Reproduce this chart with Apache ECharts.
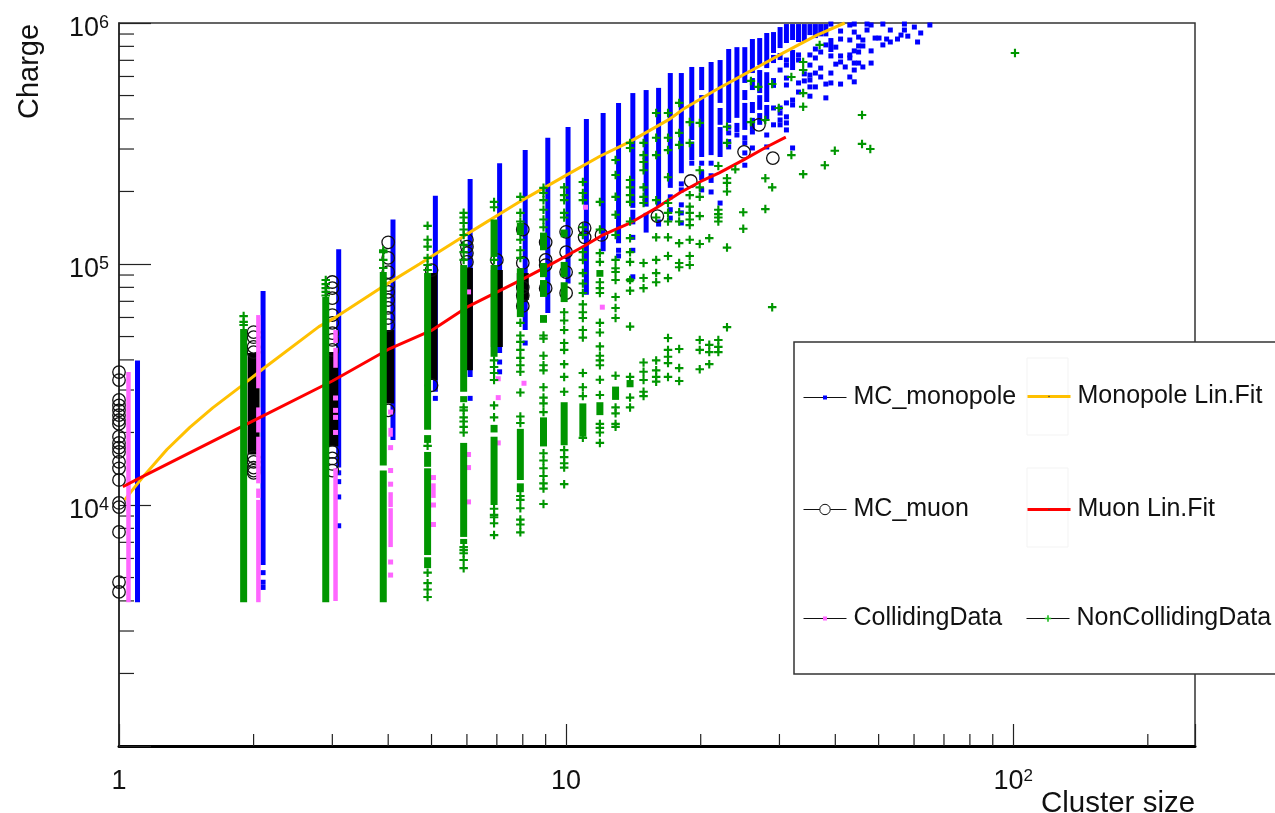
<!DOCTYPE html>
<html><head><meta charset="utf-8"><style>html,body{margin:0;padding:0;background:#fff}#c{width:1275px;height:813px}</style>
<script src="https://cdn.jsdelivr.net/npm/echarts@6/dist/echarts.min.js"></script></head><body><div id="c"></div>
<script>
// Cluster-size offsets that separate the samples horizontally
const monopoleShift = 0.1, collidingShift = 0.05, nonCollidingShift = -0.1, muonShift = 0;

// Dense columns read as [cluster size, lowest charge, highest charge]
const monopoleBands = [[1,3950,39800],[2,5640,77300],[3,14300,115000],[4,18600,153000],[5,29500,192000],[6,34000,225000],[7,42700,262000],[8,53200,297000],[9,62600,334000],[10,83000,370000],[11,74500,400000],[12,113000,423000],[13,122000,466000],[14,171000,512000],[14,146000,168000],[15,173000,527000],[15,135000,163000],[16,173000,538000],[16,143000,153000],[17,207000,620000],[18,238000,620000],[19,327000,657000],[19,270000,322000],[20,527000,657000],[20,278000,502000],[20,223000,245000],[21,283000,689000],[21,217000,238000],[22,466000,702000],[22,378000,444000],[22,278000,370000],[23,385000,780000],[24,404000,794000],[24,353000,385000],[25,564000,794000],[25,479000,527000],[25,360000,466000],[26,620000,858000],[26,527000,591000],[26,423000,470000],[26,360000,404000],[27,669000,866000],[27,512000,638000],[27,436000,502000],[27,378000,423000],[28,650000,909000],[28,470000,625000],[28,396000,457000],[29,751000,917000],[29,682000,737000],[29,538000,591000],[30,787000,962000],[30,702000,751000],[31,826000,990000],[32,850000,990000],[32,638000,773000],[33,834000,990000],[34,834000,990000],[35,891000,990000],[36,866000,990000],[37,880000,990000],[38,880000,990000],[39,758000,866000]];
const monopolePoints = [[2,[5240,4780,4550]],[3,[13600,12500,10800,8200]],[5,[27700]],[6,[27700]],[7,[39200,35700]],[8,[47000]],[13,[114000,108000]],[14,[129000,114000,88500]],[17,[190000,168000,155000]],[18,[215000,203000,176000,163000,148000]],[19,[262000]],[20,[262000,203000]],[21,[262000,199000]],[22,[179000]],[23,[370000,350000,322000,306000]],[24,[343000]],[25,[334000,318000,289000,257000]],[26,[353000,303000]],[28,[343000,306000]],[29,[444000,378000]],[30,[638000,444000,423000,396000,378000]],[31,[702000,669000,591000,553000,466000,408000,385000,360000]],[32,[479000,457000,303000]],[33,[737000,702000,564000,517000]],[34,[615000,575000]],[35,[737000,669000,608000,580000,543000,497000]],[36,[780000,716000,620000,543000]],[37,[758000,650000,597000]],[38,[811000,558000,489000]],[39,[990000,730000,620000,564000]],[40,[794000,675000]],[41,[926000,858000,730000,689000,558000]],[42,[657000]],[43,[981000,850000,737000,716000,597000]],[44,[990000,917000,766000,682000,638000,570000]],[45,[874000,803000,758000,682000]],[46,[850000,803000,657000]],[47,[990000,935000]],[48,[981000,766000,682000]],[49,[866000]],[50,[866000]],[51,[990000,811000]],[52,[858000]],[53,[935000,834000]],[55,[858000]],[56,[891000]],[57,[990000,935000]],[58,[882000]],[60,[962000]],[61,[834000]],[62,[909000]],[65,[981000]]];

const muonBands = [[2,16200,42700],[3,17500,43100],[4,26400,53200],[5,33000,91700],[6,36200,96200],[7,45300,94400],[8,70900,91700]];
const muonPoints = [[1,[35600,33000,27300,25900,24700,23600,22500,21700,19200,18100,17300,16600,15100,14200,12700,10200,9800,7730,4790,4360]],[2,[52200,49700,45300,43100,15800,15100,14300,13900,13600]],[3,[84200,79400,72200,61400,57000,51700,48400,44000,16600,15600,14800,13900]],[4,[123000,106000,92600,81800,76600,70900,65700,59700,55800,24700]],[5,[94400,31400]],[6,[126000,118000,111000,102000]],[7,[104000]],[8,[139000,101000,80000,74000,67000]],[9,[123000,104000,99000,79400]],[10,[136000,112000,92600,75800]],[11,[141000,129000]],[12,[132000]],[16,[158000]],[19,[221000]],[25,[292000]],[27,[378000]],[29,[275000]]];

const collidingBands = [[1,3950,35600],[2,30500,61400],[2,20000,25400],[2,12300,19200],[2,10700,11700],[2,3950,10500],[3,47000,53200],[3,37100,44900],[3,4000,14200],[4,19200,20900],[4,9800,11300],[4,6690,9700],[5,10700,12300]];
const collidingPoints = [[3,[27800,24700,23100,20000]],[4,[24300,17300,13900,12200,5800,5120]],[5,[13000,10000,8300]],[6,[76600,16200,14300,10300]],[7,[33400,27900,18100]],[8,[32000]],[11,[172000]],[12,[66200]]];

const nonCollidingBands = [[2,3950,53800],[3,3950,73000],[4,14600,92600],[4,3950,13900],[5,20500,91700],[5,18100,19500],[5,14400,16600],[5,6200,14200],[5,5470,6070],[6,29500,99000],[6,26700,28300],[6,7370,18100],[6,6890,7230],[7,107000,153000],[7,41200,99000],[7,20000,21500],[7,10000,19200],[8,132000,148000],[8,60200,96000],[8,12700,20700],[8,11300,12300],[9,114000,135000],[9,88200,101000],[9,73000,85800],[9,57000,61400],[9,17500,23100],[10,129000,139000],[10,88200,102000],[10,69500,84000],[10,17700,26700],[11,19200,26400],[12,88500,94400],[12,23600,26700],[13,27300,31000],[14,84000,87400],[14,30800,33000]];
const nonCollidingPoints = [[2,[60800,57500,55800]],[3,[85800,82500,79400,76600,74000]],[4,[114000,112000,104000,96200]],[5,[144000,126000,118000,106000,99000,94400,17600,5240,4740,4460,4150]],[6,[163000,156000,148000,139000,132000,120000,112000,104000,25400,24700,23100,22200,21100,20000,6690,6500,6310,5910,5470]],[7,[181000,172000,104000,39800,37400,35300,33000,25900,23100,9650,9100,8900,8400,7500]],[8,[190000,163000,150000,126000,114000,106000,57000,50500,47500,44000,40800,38000,35700,29300,23300,21900,10900,10500,9700,8700,8300,7700]],[9,[207000,197000,184000,168000,153000,142000,50500,49000,41600,38000,36200,30800,27900,26400,24300,16400,15300,14200,13200,12300,11700,10100]],[10,[208000,193000,184000,163000,156000,63100,58300,53200,47000,44000,38400,34000,29500,16900,15800,14900,14300,12200]],[11,[219000,197000,184000,142000,132000,112000,104000,91700,83000,75800,68000,63100,59700,53200,49500,35300,30800,28300,19000]],[12,[181000,139000,111000,102000,84000,79400,75800,57000,52000,45500,41600,39800,38000,33100,28600,21700,20900,20000,18100]],[13,[270000,234000,190000,160000,132000,104000,96000,92600,85800,73000,65700,59700,34400,25400,24000,21700,21100]],[14,[318000,303000,223000,208000,193000,181000,150000,128000,112000,102000,85800,77500,55000,34000,27900,25400]],[15,[318000,283000,265000,245000,208000,190000,179000,101000,87500,79400,39000,35700,33000,29500,28300]],[16,[423000,334000,283000,184000,156000,129000,104000,91700,84000,39800,36200,34000,32500]],[17,[423000,334000,297000,229000,179000,163000,150000,129000,108000,87400,49300,44000,41200,38800,34000]],[18,[466000,350000,312000,164000,150000,122000,101000,97000,44400,37000,32700]],[19,[388000,318000,193000,173000,163000,153000,145000,126000,108000,99000]],[20,[385000,245000,208000,190000,158000,121000,48400,44000,36600]],[21,[128000,46200,43100,38400]],[22,[255000,168000,161000,156000,150000,48400,45300,43100]],[23,[371000,318000,227000,217000,200000,117000,54700]],[24,[247000]],[25,[164000,140000]],[26,[575000,388000]],[27,[543000]],[28,[396000,227000,169000]],[29,[558000,208000,66200]],[30,[444000]],[32,[597000,283000]],[34,[689000,638000,512000,449000,236000]],[37,[811000]],[38,[257000]],[40,[295000]],[46,[415000,315000]],[48,[300000]],[101,[751000]]];

// Fitted curves [cluster size, charge]
const monopoleFit = [[1.03,10500],[1.07,11500],[1.14,13300],[1.28,17000],[1.44,21000],[1.62,25300],[1.87,31000],[2.09,36500],[2.8,55000],[3.07,60500],[3.84,79400],[4.7,100000],[6,133000],[7.9,182000],[9.9,231000],[11.9,280000],[13.9,322000],[17,398000],[18.3,440000],[21.7,530000],[25.8,631000],[30.6,752000],[36.4,891000],[42,1000000]];
const muonFit = [[1.02,11900],[1.1,12800],[2,22400],[3,32700],[4,44200],[5,53000],[6,66200],[7,76400],[8,86600],[9,97000],[10,108000],[11,119000],[12,131000],[14,149000],[16,172000],[18,198000],[20,220000],[22,239000],[25,271000],[28,305000],[31,336000]];

// Axis labels and minor tick values
const xMinorTicks = [2,3,4,5,6,7,8,9,20,30,40,50,60,70,80,90,200];
const yMinorTicks = [2e3,3e3,4e3,5e3,6e3,7e3,8e3,9e3,2e4,3e4,4e4,5e4,6e4,7e4,8e4,9e4,2e5,3e5,4e5,5e5,6e5,7e5,8e5,9e5];
const xLabels = {1:'{a|1}',10:'{a|10}',100:'{a|10}{s|2}'};
const yLabels = {10000:'{a|10}{s|4}',100000:'{a|10}{s|5}',1000000:'{a|10}{s|6}'};

const FONT = '"Liberation Sans", Arial, Helvetica, sans-serif';
const BLUE='#0000ff', PINK='#ff66ff', GREEN='#009600', YELLOW='#ffc000', RED='#ff0000';
const PLUS='path://M3 0h2v3h3v2H5v3H3V5H0V3h3z';

const flat=(t,sh)=>t.flatMap(([s,v])=>v.map(c=>[+(s+sh).toFixed(3),c]));
const shiftBands=(b,sh)=>b.map(([s,lo,hi])=>[+(s+sh).toFixed(3),lo,hi]);

function bandSeries(name,data,color,w,z){
  return {type:'custom',name,data,z,silent:true,animation:false,encode:{x:0,y:[1,2]},
    renderItem(p,api){
      const a=api.coord([api.value(0),api.value(1)]),b=api.coord([api.value(0),api.value(2)]);
      return {type:'rect',shape:{x:a[0]-w/2,y:b[1],width:w,height:a[1]-b[1]},style:{fill:color}};
    }};
}
function markSeries(name,data,symbol,size,itemStyle,z){
  return {type:'line',name,data,z,symbol,symbolSize:size,showSymbol:true,showAllSymbol:true,clip:false,silent:true,animation:false,
    lineStyle:{width:0,opacity:0},itemStyle};
}
function fitSeries(name,data,color,z){
  return {type:'line',name,data,z,symbol:'none',clip:false,silent:true,animation:false,lineStyle:{color,width:3},itemStyle:{color:'#444'}};
}
function tickSeries(name,data,isX,len){
  return {type:'custom',name,data:data.map(v=>[v]),z:1,silent:true,animation:false,coordinateSystem:'cartesian2d',
    encode:isX?{x:0}:{y:0},
    renderItem(p,api){
      const v=api.value(0);
      const c=isX?api.coord([v,1000]):api.coord([1,v]);
      return {type:'line',shape:isX?{x1:c[0],y1:c[1],x2:c[0],y2:c[1]-len}:{x1:c[0],y1:c[1],x2:c[0]+len,y2:c[1]},style:{stroke:'#222',lineWidth:1.2}};
    }};
}
function legendAt(name,left,top,itemHeight,extra){
  return Object.assign({data:[name],left,top,orient:'horizontal',padding:0,itemWidth:43,itemHeight,z:20,selectedMode:false,
    textStyle:{fontFamily:FONT,fontSize:25,color:'#111',padding:[0,0,0,2]},
    lineStyle:{color:'#111',width:1,opacity:1}},extra||{});
}

const chart=echarts.init(document.getElementById('c'),null,{renderer:'canvas'});
const richX={a:{fontFamily:FONT,fontSize:27,color:'#111'},s:{fontFamily:FONT,fontSize:17,color:'#111',padding:[0,0,11,0]}};
const richY={a:{fontFamily:FONT,fontSize:27,color:'#111'},s:{fontFamily:FONT,fontSize:18,color:'#111',padding:[0,0,12,0]}};
chart.setOption({
  animation:false,backgroundColor:'#fff',
  grid:{left:119,right:80,top:23,bottom:67,show:true,borderColor:'#333',borderWidth:1.5,backgroundColor:'#fff',containLabel:false,outerBoundsMode:'none'},
  xAxis:{type:'log',logBase:10,min:1,max:255,splitLine:{show:false},minorTick:{show:false},
    axisLine:{show:true,onZero:false,lineStyle:{color:'#000',width:3}},
    axisTick:{show:true,inside:true,length:22,lineStyle:{color:'#222',width:1.2}},
    axisLabel:{show:true,margin:22,rich:richX,formatter:v=>xLabels[Math.round(v)]||''},
    name:'Cluster size',nameLocation:'end',nameGap:-154,
    nameTextStyle:{fontFamily:FONT,fontSize:29.5,color:'#111',align:'left',verticalAlign:'top',padding:[43,0,0,0]}},
  yAxis:{type:'log',logBase:10,min:1000,max:1000000,splitLine:{show:false},minorTick:{show:false},
    axisLine:{show:true,onZero:false,lineStyle:{color:'#222',width:1.5}},
    axisTick:{show:true,inside:true,length:32,lineStyle:{color:'#222',width:1.2}},
    axisLabel:{show:true,margin:10,padding:[12,0,0,0],rich:richY,formatter:v=>yLabels[Math.round(v)]||''},
    name:'Charge',nameLocation:'end',nameRotate:90,nameGap:-96,
    nameTextStyle:{fontFamily:FONT,fontSize:29,color:'#111',align:'left',verticalAlign:'bottom',padding:[0,0,75,0]}},
  graphic:{elements:[
    {type:'rect',z:10,silent:true,shape:{x:794,y:342,width:482,height:332},style:{fill:'#fff',stroke:'#333',lineWidth:1.5}},
    {type:'rect',z:11,silent:true,shape:{x:1027,y:358,width:41,height:77},style:{fill:'#fff',stroke:'#f3f3f3',lineWidth:1}},
    {type:'rect',z:11,silent:true,shape:{x:1027,y:468,width:41,height:79},style:{fill:'#fff',stroke:'#f3f3f3',lineWidth:1}}
  ]},
  legend:[
    legendAt('MC_monopole',803,385,5,{}),
    legendAt('MC_muon',803,497,13,{itemStyle:{color:'#fff',borderColor:'#111',borderWidth:1}}),
    legendAt('CollidingData',803,606,5,{}),
    legendAt('Monopole Lin.Fit',1026,384,2,{lineStyle:{width:3,opacity:1,color:YELLOW},itemStyle:{color:'#444'}}),
    legendAt('Muon Lin.Fit',1026,497,2,{lineStyle:{width:3,opacity:1,color:RED},itemStyle:{color:'#444'}}),
    legendAt('NonCollidingData',1026,606,8,{itemStyle:{color:'#22bb22'}})
  ],
  series:[
    tickSeries('x minor',xMinorTicks,true,12),
    tickSeries('y minor',yMinorTicks,false,15),
    bandSeries('monopole bands',shiftBands(monopoleBands,monopoleShift),BLUE,5,2),
    markSeries('MC_monopole',flat(monopolePoints,monopoleShift),'rect',5,{color:BLUE},2),
    bandSeries('muon bands',shiftBands(muonBands,muonShift),'#000',12,3),
    markSeries('MC_muon',flat(muonPoints,muonShift),'circle',12.5,{color:'transparent',borderColor:'#111',borderWidth:1.3},3),
    fitSeries('Monopole Lin.Fit',monopoleFit,YELLOW,4),
    bandSeries('colliding bands',shiftBands(collidingBands,collidingShift),PINK,4.5,5),
    markSeries('CollidingData',flat(collidingPoints,collidingShift),'rect',5,{color:PINK},5),
    fitSeries('Muon Lin.Fit',muonFit,RED,6),
    bandSeries('non-colliding bands',shiftBands(nonCollidingBands,nonCollidingShift),GREEN,7,7),
    markSeries('NonCollidingData',flat(nonCollidingPoints,nonCollidingShift),PLUS,8.5,{color:GREEN},7)
  ]
});
</script></body></html>
